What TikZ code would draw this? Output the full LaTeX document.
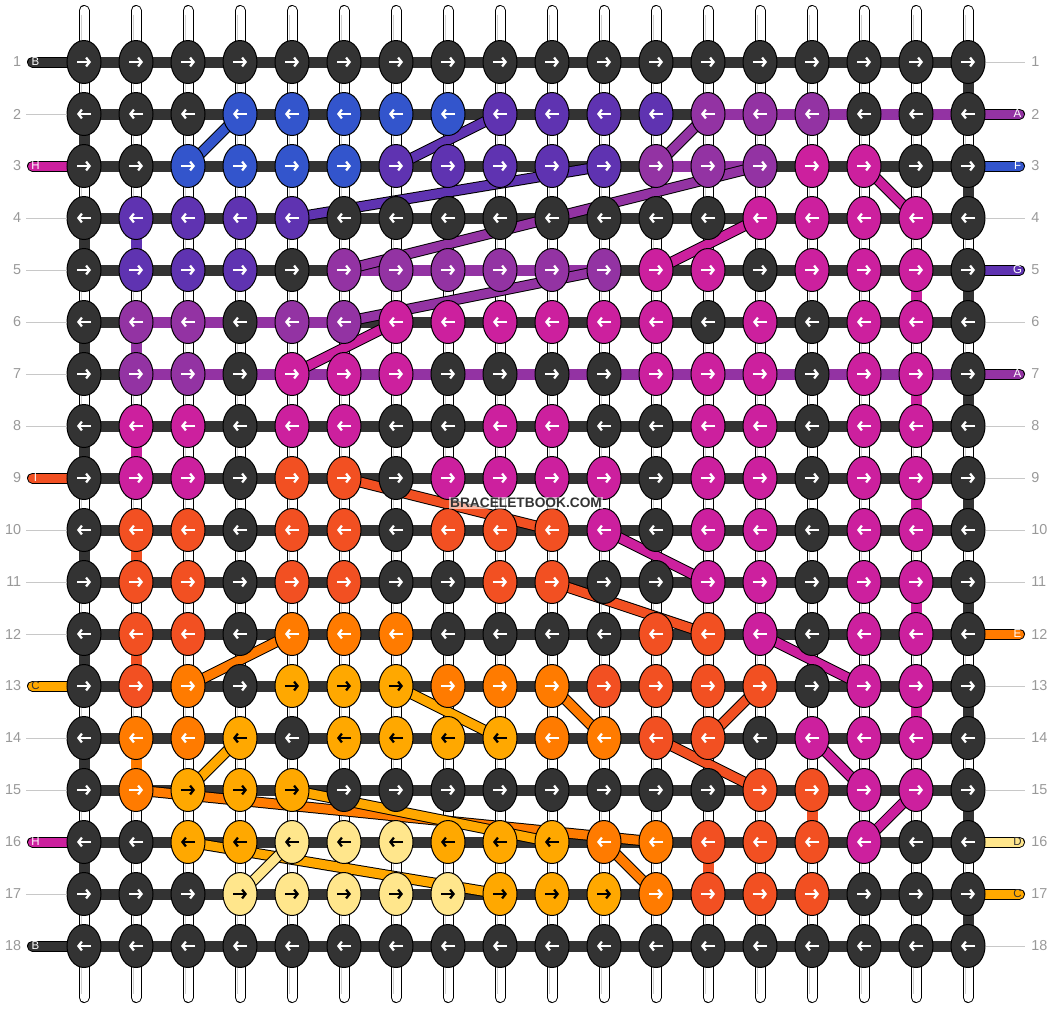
\documentclass[tikz,border=0pt]{standalone}
\usepackage{fontspec}
\setmainfont{Liberation Sans}
\usetikzlibrary{shapes.geometric,arrows.meta}

\definecolor{colK}{HTML}{333333}
\definecolor{colF}{HTML}{3355CC}
\definecolor{colG}{HTML}{5F33B1}
\definecolor{colA}{HTML}{9333A3}
\definecolor{colH}{HTML}{CC209E}
\definecolor{colI}{HTML}{F25022}
\definecolor{colE}{HTML}{FF7B00}
\definecolor{colC}{HTML}{FFA800}
\definecolor{colD}{HTML}{FFE68C}
\colorlet{arK}{white}
\colorlet{arF}{white}
\colorlet{arG}{white}
\colorlet{arA}{white}
\colorlet{arH}{white}
\colorlet{arI}{white}
\colorlet{arE}{white}
\colorlet{arC}{black}
\colorlet{arD}{black}
\definecolor{numgray}{HTML}{999999}
\definecolor{guidegray}{HTML}{C8C8C8}
\definecolor{threadgray}{HTML}{CFCFCF}

\pgfdeclarelayer{paper}
\pgfdeclarelayer{strands}
\pgfdeclarelayer{bars}
\pgfdeclarelayer{diags}
\pgfsetlayers{paper,strands,bars,diags,main}

\tikzset{
  knot/.style={draw=black, line width=0.75pt, ellipse, minimum width=25.5pt, minimum height=32.25pt, inner sep=0pt},
  arrowline/.style={line width=1.7pt, -{Straight Barb[length=2.6pt,width=6.6pt]}},
  strand/.style={draw=black, double=white, line width=0.75pt, double distance=6.75pt, line cap=round},
  thread/.style={draw=threadgray, line width=0.6pt, shorten <=3pt, shorten >=3pt},
  bar/.style={line width=8.25pt},
  diag/.style={draw=black, line width=0.75pt, double distance=6.75pt},
  stubline/.style={draw=black, line width=0.75pt, double distance=6.75pt, line cap=round},
  stubtext/.style={font=\fontsize{8.6}{8.6}\selectfont, inner sep=0pt},
  rownum/.style={font=\fontsize{10.8}{10.8}\selectfont, text=numgray, inner sep=0pt},
  guide/.style={draw=guidegray, line width=0.75pt}
}

\begin{document}
\begin{tikzpicture}[x=0.75pt,y=-0.75pt]
\begin{pgfonlayer}{paper}
\fill[white] (0,0) rectangle (1052,1008);
\end{pgfonlayer}
\useasboundingbox (0,0) rectangle (1052,1008);

\foreach \line [count=\r] in {
  {K,K,K,K,K,K,K,K,K,K,K,K,K,K,K,K,K,K},
  {K,K,K,F,F,F,F,F,G,G,G,G,A,A,A,K,K,K},
  {K,K,F,F,F,F,G,G,G,G,G,A,A,A,H,H,K,K},
  {K,G,G,G,G,K,K,K,K,K,K,K,K,H,H,H,H,K},
  {K,G,G,G,K,A,A,A,A,A,A,H,H,K,H,H,H,K},
  {K,A,A,K,A,A,H,H,H,H,H,H,K,H,K,H,H,K},
  {K,A,A,K,H,H,H,K,K,K,K,H,H,H,K,H,H,K},
  {K,H,H,K,H,H,K,K,H,H,K,K,H,H,K,H,H,K},
  {K,H,H,K,I,I,K,H,H,H,H,K,H,H,K,H,H,K},
  {K,I,I,K,I,I,K,I,I,I,H,K,H,H,K,H,H,K},
  {K,I,I,K,I,I,K,K,I,I,K,K,H,H,K,H,H,K},
  {K,I,I,K,E,E,E,K,K,K,K,I,I,H,K,H,H,K},
  {K,I,E,K,C,C,C,E,E,E,I,I,I,I,K,H,H,K},
  {K,E,E,C,K,C,C,C,C,E,E,I,I,K,H,H,H,K},
  {K,E,C,C,C,K,K,K,K,K,K,K,K,I,I,H,H,K},
  {K,K,C,C,D,D,D,C,C,C,E,E,I,I,I,H,K,K},
  {K,K,K,D,D,D,D,D,C,C,C,E,I,I,I,K,K,K},
  {K,K,K,K,K,K,K,K,K,K,K,K,K,K,K,K,K,K}} {
  \foreach \c [count=\i] in \line {
    \pgfmathsetmacro\kx{84+52*(\i-1)}
    \pgfmathsetmacro\ky{62+52*(\r-1)}
    \ifodd\r\def\dir{1}\else\def\dir{-1}\fi
    \node[knot, fill=col\c] (k-\r-\i) at (\kx,\ky) {};
    \draw[arrowline, draw=ar\c] (\kx-7*\dir,\ky) -- (\kx+7*\dir,\ky);
  }
}

\begin{pgfonlayer}{strands}
\foreach \i in {1,...,18} {
  \coordinate (st-\i) at ({84+52*(\i-1)},10.5);
  \coordinate (sb-\i) at ({84+52*(\i-1)},997.5);
  \draw[strand] (st-\i) -- (sb-\i);
  \draw[thread] ([xshift=-1.9pt]st-\i) -- ([xshift=-1.9pt]sb-\i);
}
\end{pgfonlayer}

\begin{pgfonlayer}{bars}
\foreach \r in {1,...,18}
  \draw[bar, colK] (k-\r-1.center) -- (k-\r-18.center);
\foreach \r/\s in {2/3,4/5,6/7,8/9,10/11,12/13,14/15,16/17}
  \draw[bar, colK] (k-\r-1.center) -- (k-\s-1.center);
\foreach \r/\s in {1/2,3/4,5/6,7/8,9/10,11/12,13/14,15/16,17/18}
  \draw[bar, colK] (k-\r-18.center) -- (k-\s-18.center);
\foreach \r/\a/\b in {2/13/18,3/12/14,5/6/11,6/2/6,7/2/18}
  \draw[bar, colA] (k-\r-\a.center) -- (k-\r-\b.center);
\foreach \r/\s/\i/\col in {4/5/2/G,6/7/2/A,8/9/2/H,10/11/2/I,12/13/2/I,14/15/2/E,
    5/6/17/H,7/8/17/H,9/10/17/H,11/12/17/H,13/14/17/H,15/16/15/I,16/17/13/I}
  \draw[bar, col\col] (k-\r-\i.center) -- (k-\s-\i.center);
\foreach \r/\col in {1/K,3/H,9/I,13/C,16/H,18/K} {
  \coordinate (ls-\r) at (32.5,{62+52*(\r-1)});
  \draw[stubline, double=col\col] (ls-\r) -- (k-\r-1.center);
}
\foreach \r/\col in {2/A,3/F,5/G,7/A,12/E,16/D,17/C} {
  \coordinate (rs-\r) at (1019.5,{62+52*(\r-1)});
  \draw[stubline, double=col\col] (k-\r-18.center) -- (rs-\r);
}
\end{pgfonlayer}

\begin{pgfonlayer}{diags}
\foreach \ra/\ca/\rb/\cb/\col in {2/4/3/3/F,2/9/3/7/G,3/11/4/5/G,2/13/3/12/A,3/14/5/6/A,
    5/11/6/6/A,3/16/4/17/H,4/14/5/12/H,6/7/7/5/H,10/11/11/13/H,12/14/13/16/H,
    14/15/15/16/H,15/17/16/16/H,9/6/10/10/I,11/10/12/13/I,13/14/14/13/I,14/12/15/14/I,
    12/5/13/3/E,13/10/14/11/E,15/2/16/12/E,16/11/17/12/E,13/7/14/9/C,14/4/15/3/C,
    15/5/16/10/C,16/3/17/9/C,16/5/17/4/D}
  \draw[diag, double=col\col] (k-\ra-\ca.center) -- (k-\rb-\cb.center);
\end{pgfonlayer}

\foreach \r/\lab/\tc in {1/B/white,3/H/white,9/I/white,13/C/colK,16/H/white,18/B/white}
  \node[stubtext, text=\tc] (sl-\r) at (35.5,{62+52*(\r-1)}) {\lab};
\foreach \r/\lab/\tc in {2/A/white,3/F/white,5/G/white,7/A/white,12/E/white,16/D/colK,17/C/colK}
  \node[stubtext, text=\tc] (sr-\r) at (1017.5,{62+52*(\r-1)}) {\lab};

\foreach \r in {2,4,5,6,7,8,10,11,12,14,15,17} {
  \coordinate (gl-\r) at (26,{62+52*(\r-1)});
  \draw[guide] (gl-\r) -- (k-\r-1.west);
}
\foreach \r in {1,4,6,8,9,10,11,13,14,15,18} {
  \coordinate (gr-\r) at (1025,{62+52*(\r-1)});
  \draw[guide] (k-\r-18.east) -- (gr-\r);
}

\foreach \r in {1,...,18} {
  \node[rownum, anchor=east] (nl-\r) at (21.5,{62+52*(\r-1)}) {\r};
  \node[rownum, anchor=west] (nr-\r) at (1031,{62+52*(\r-1)}) {\r};
}

\node[font=\bfseries\fontsize{10.3}{10.3}\selectfont, text=colK, fill=white, fill opacity=0.6, text opacity=1, inner sep=1pt] (mark) at (526,503) {BRACELETBOOK.COM};
\end{tikzpicture}
\end{document}
